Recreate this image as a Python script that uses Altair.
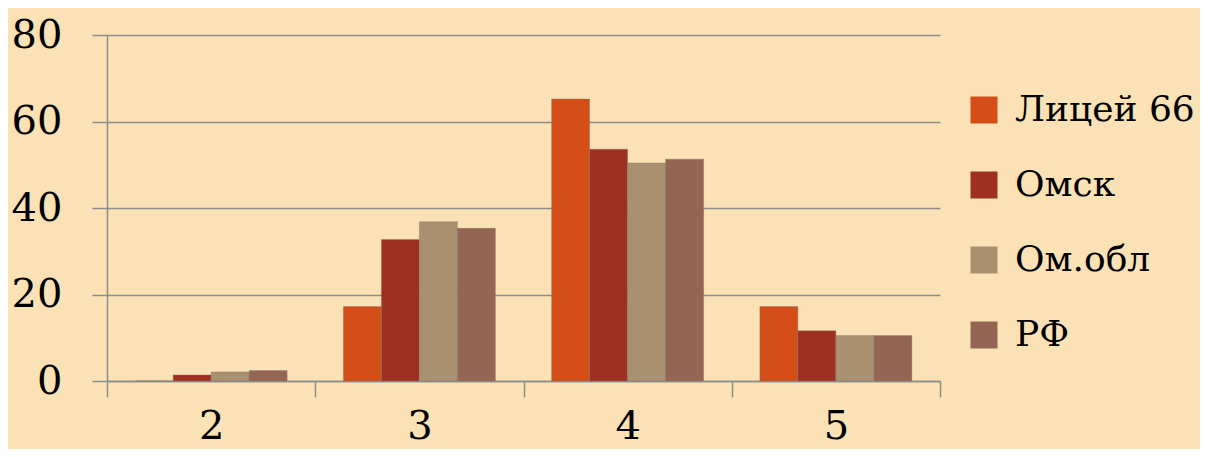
import altair as alt
import pandas as pd

categories = ["2", "3", "4", "5"]
series = ["Лицей 66", "Омск", "Ом.обл", "РФ"]
licey = [0, 17.2, 65.2, 17.2]
omsk = [1.4, 32.7, 53.6, 11.6]
oblast = [2.1, 36.8, 50.4, 10.5]
rf = [2.4, 35.3, 51.3, 10.5]
colors = ["#D44E1A", "#9E3022", "#A89070", "#946552"]
y_ticks = [0, 20, 40, 60, 80]

rows = []
for name, vals in zip(series, [licey, omsk, oblast, rf]):
    for c, v in zip(categories, vals):
        rows.append({"cat": c, "series": name, "value": v})
df = pd.DataFrame(rows)

FONT = "DejaVu Serif"
GREY = "#8C8C8C"

chart = alt.Chart(df).mark_bar(stroke="#8a7a66", strokeWidth=0.4).encode(
    x=alt.X("cat:N", sort=categories,
            scale=alt.Scale(paddingInner=0, paddingOuter=0),
            axis=alt.Axis(title=None, labelAngle=0, tickBand="extent",
                          tickSize=16, tickColor=GREY, tickWidth=1.5,
                          domainColor=GREY, domainWidth=1.5,
                          labelFont=FONT, labelFontSize=40, labelColor="#000000",
                          labelPadding=9, grid=False)),
    xOffset=alt.XOffset("series:N", sort=series,
                        scale=alt.Scale(paddingInner=0, paddingOuter=0.74)),
    y=alt.Y("value:Q", scale=alt.Scale(domain=[0, 80]),
            axis=alt.Axis(title=None, values=y_ticks, grid=True, gridColor=GREY,
                          gridWidth=1.5, tickSize=15, tickColor=GREY, tickWidth=1.5,
                          domainColor=GREY, domainWidth=1.5,
                          labelFont=FONT, labelFontSize=40, labelColor="#000000",
                          labelPadding=30)),
    color=alt.Color("series:N", sort=series,
                    scale=alt.Scale(domain=series, range=colors),
                    legend=alt.Legend(title=None, orient="none", legendX=859, legendY=57,
                                      padding=0,
                                      symbolType="square", symbolSize=729,
                                      symbolStrokeWidth=0, labelFont=FONT,
                                      labelFontSize=36, labelColor="#000000",
                                      labelOffset=13, rowPadding=39, labelLimit=400)),
).properties(
    width=833, height=346,
    autosize="none",
    padding={"left": 99, "top": 27, "right": 260, "bottom": 68},
).configure(background="#FBE2B6").configure_view(stroke=None)

chart.save("out.html", embed_options={"renderer": "svg", "actions": False})
